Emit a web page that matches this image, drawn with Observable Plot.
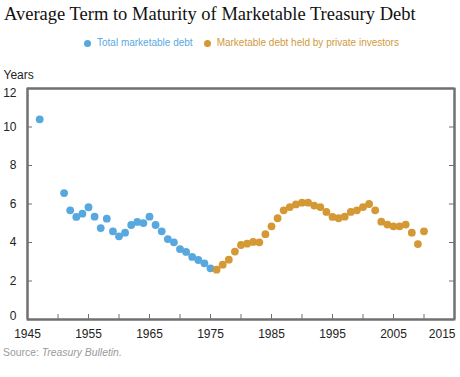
<!DOCTYPE html>
<html>
<head>
<meta charset="utf-8">
<script src="https://cdn.jsdelivr.net/npm/d3@7"></script>
<script src="https://cdn.jsdelivr.net/npm/@observablehq/plot@0.6"></script>
<style>
  html, body { margin: 0; padding: 0; background: #fff; }
  #wrap { position: relative; width: 460px; height: 377px; overflow: hidden; font-family: "Liberation Sans", Arial, sans-serif; }
  #title { position: absolute; left: 4px; top: 5px; font-family: "Liberation Serif", "Times New Roman", serif; font-size: 18.5px; line-height: 18.5px; color: #111; white-space: nowrap; }
  #legend { position: absolute; left: 84px; top: 37px; height: 12px; display: flex; align-items: center; font-size: 10px; line-height: 12px; white-space: nowrap; }
  .sw { width: 7px; height: 7px; border-radius: 50%; display: inline-block; margin-right: 6px; }
  .item { display: flex; align-items: center; margin-right: 11px; }
  #chart { position: absolute; left: 0; top: 56px; }
  #source { position: absolute; left: 3px; top: 347px; font-size: 10.4px; line-height: 12px; color: #9a9a9a; white-space: nowrap; }
</style>
</head>
<body>
<div id="wrap">
  <div id="title"></div>
  <div id="legend"></div>
  <div id="chart"></div>
  <div id="source">Source: <i>Treasury Bulletin.</i></div>
</div>
<script>
const titleText = "Average Term to Maturity of Marketable Treasury Debt";
const seriesNames = ["Total marketable debt", "Marketable debt held by private investors"];
const seriesColors = ["#58a8e0", "#d49834"];
const legendTextColors = ["#5aa9df", "#cf9a3c"];

const totalYears = [1947, 1951, 1952, 1953, 1954, 1955, 1956, 1957, 1958, 1959, 1960, 1961, 1962, 1963, 1964, 1965, 1966, 1967, 1968, 1969, 1970, 1971, 1972, 1973, 1974, 1975];
const totalValues = [10.4, 6.57, 5.67, 5.33, 5.5, 5.83, 5.34, 4.75, 5.24, 4.58, 4.32, 4.51, 4.91, 5.07, 5.01, 5.34, 4.91, 4.58, 4.18, 4.01, 3.66, 3.51, 3.25, 3.09, 2.92, 2.66];

const privateYears = [1976, 1977, 1978, 1979, 1980, 1981, 1982, 1983, 1984, 1985, 1986, 1987, 1988, 1989, 1990, 1991, 1992, 1993, 1994, 1995, 1996, 1997, 1998, 1999, 2000, 2001, 2002, 2003, 2004, 2005, 2006, 2007, 2008, 2009, 2010];
const privateValues = [2.59, 2.85, 3.11, 3.53, 3.87, 3.94, 4.03, 4.01, 4.43, 4.84, 5.26, 5.67, 5.84, 5.98, 6.07, 6.07, 5.92, 5.84, 5.59, 5.33, 5.26, 5.34, 5.59, 5.67, 5.84, 6.0, 5.67, 5.08, 4.93, 4.84, 4.84, 4.93, 4.51, 3.92, 4.58];

const xDomain = [1945, 2015];
const yDomain = [0, 12];
const xTickLabels = [1945, 1955, 1965, 1975, 1985, 1995, 2005];
const xLastLabel = [2015];
const xTickMarks = [1950, 1955, 1960, 1965, 1970, 1975, 1980, 1985, 1990, 1995, 2000, 2005, 2010];
const yTickLabels = [2, 4, 6, 8, 10];
const yTopLabel = [12];
const yBottomLabel = [0];
const yTickMarks = [2, 4, 6, 8, 10];
const yLabel = "Years";

document.getElementById("title").textContent = titleText;
const legend = document.getElementById("legend");
seriesNames.forEach((name, i) => {
  const item = document.createElement("span");
  item.className = "item";
  const sw = document.createElement("span");
  sw.className = "sw";
  sw.style.background = seriesColors[i];
  const t = document.createElement("span");
  t.textContent = name;
  t.style.color = legendTextColors[i];
  item.appendChild(sw);
  item.appendChild(t);
  legend.appendChild(item);
});

const total = totalYears.map((y, i) => ({year: y, value: totalValues[i]}));
const priv = privateYears.map((y, i) => ({year: y, value: privateValues[i]}));

const frameColor = "#707070";
const labelStyle = {tickSize: 0, fontSize: 12, fill: "#222"};
const chart = Plot.plot({
  width: 460,
  height: 290,
  marginTop: 32,
  marginBottom: 27,
  marginLeft: 27,
  marginRight: 6,
  style: {fontFamily: "'Liberation Sans', Arial, sans-serif", fontSize: "12px", color: frameColor, overflow: "visible"},
  x: {domain: xDomain, label: null},
  y: {domain: yDomain, label: null},
  marks: [
    Plot.ruleY(yDomain, {stroke: frameColor, strokeWidth: 2}),
    Plot.ruleX(xDomain, {stroke: frameColor, strokeWidth: 2}),
    Plot.frame({strokeWidth: 2}),
    Plot.tickX(xTickMarks, {x: d => d, insetTop: 226, stroke: frameColor, strokeWidth: 1}),
    Plot.tickY(yTickMarks, {y: d => d, insetLeft: 422, stroke: frameColor, strokeWidth: 1}),
    Plot.tickY(yTickMarks, {y: d => d, insetRight: 422, stroke: frameColor, strokeWidth: 1}),
    Plot.axisX(xTickLabels, {...labelStyle, tickPadding: 10, tickFormat: d => String(d)}),
    Plot.axisX(xLastLabel, {...labelStyle, tickPadding: 10, tickFormat: d => String(d), textAnchor: "end", dx: 1}),
    Plot.axisY(yTickLabels, {...labelStyle, tickPadding: 11}),
    Plot.axisY(yTopLabel, {...labelStyle, tickPadding: 11, dy: 4.5}),
    Plot.axisY(yBottomLabel, {...labelStyle, tickPadding: 11, dy: -3}),
    Plot.dot(total, {x: "year", y: "value", r: 3.9, fill: seriesColors[0], stroke: null}),
    Plot.dot(priv, {x: "year", y: "value", r: 3.9, fill: seriesColors[1], stroke: null}),
    Plot.text([yLabel], {text: d => d, frameAnchor: "top-left", dx: -24, dy: -18, textAnchor: "start", fontSize: 12, fill: "#222"})
  ]
});
document.getElementById("chart").appendChild(chart);
</script>
</body>
</html>
